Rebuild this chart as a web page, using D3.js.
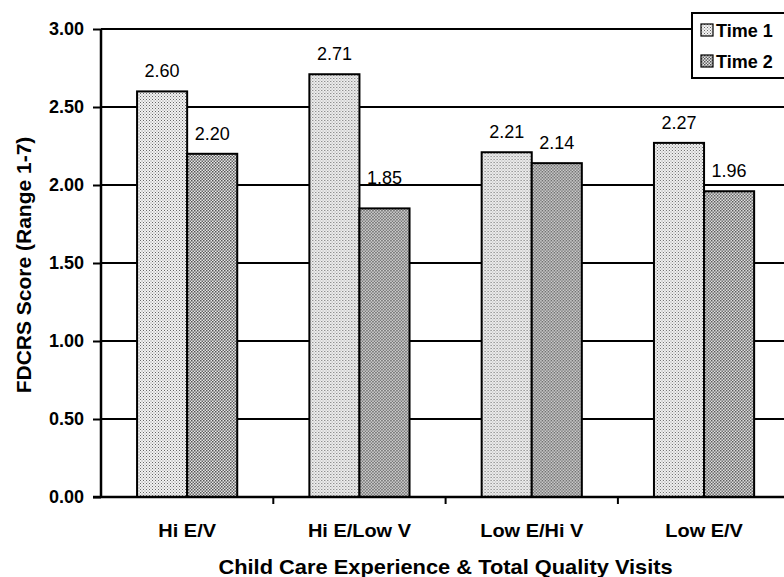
<!DOCTYPE html>
<html>
<head>
<meta charset="utf-8">
<script src="https://cdn.jsdelivr.net/npm/d3@7"></script>
<style>
  body { margin: 0; background: #fff; }
  text { font-family: "Liberation Sans", Arial, sans-serif; }
</style>
</head>
<body>
<svg id="chart" width="784" height="577"></svg>
<script>
const categories = ["Hi E/V", "Hi E/Low V", "Low E/Hi V", "Low E/V"];
const seriesNames = ["Time 1", "Time 2"];
const time1 = [2.60, 2.71, 2.21, 2.27];
const time2 = [2.20, 1.85, 2.14, 1.96];
const yTicks = [0, 0.5, 1.0, 1.5, 2.0, 2.5, 3.0];

const svg = d3.select("#chart");
const W = 784, H = 577;
const plotLeft = 101, plotTop = 29, plotBottom = 497;
const bandW = 172.3;
const plotRight = plotLeft + bandW * categories.length;
const FONT = "Liberation Sans, Arial, sans-serif";

// Widen heavy labels slightly (the printed face runs wider than Arial Bold)
function widen(sel, k) {
  sel.each(function () {
    const len = this.getComputedTextLength();
    d3.select(this).attr("textLength", len * k).attr("lengthAdjust", "spacingAndGlyphs");
  });
}

// Dotted fills for the two time points
const defs = svg.append("defs");
const p1 = defs.append("pattern").attr("id", "pat1").attr("width", 3).attr("height", 3)
  .attr("patternUnits", "userSpaceOnUse");
p1.append("rect").attr("width", 3).attr("height", 3).attr("fill", "#f2f2f2");
p1.append("rect").attr("x", 0).attr("y", 0).attr("width", 1).attr("height", 1).attr("fill", "#666");
p1.append("rect").attr("x", 1.5).attr("y", 1.5).attr("width", 1).attr("height", 1).attr("fill", "#888");
const p2 = defs.append("pattern").attr("id", "pat2").attr("width", 3).attr("height", 3)
  .attr("patternUnits", "userSpaceOnUse");
p2.append("rect").attr("width", 3).attr("height", 3).attr("fill", "#e6e6e6");
p2.append("rect").attr("x", 0).attr("y", 0).attr("width", 1.5).attr("height", 1.5).attr("fill", "#555");
p2.append("rect").attr("x", 1.5).attr("y", 1.5).attr("width", 1.5).attr("height", 1.5).attr("fill", "#666");

const x = d3.scaleBand().domain(categories).range([plotLeft, plotRight]).padding(0);
const y = d3.scaleLinear().domain([0, 3]).range([plotBottom, plotTop]);
const inner = d3.scaleBand().domain(seriesNames).range([0, x.bandwidth()]).paddingInner(0).paddingOuter(0.72);

// Horizontal gridlines
svg.append("g").selectAll("line").data(yTicks.filter(d => d > 0)).join("line")
  .attr("x1", plotLeft).attr("x2", W)
  .attr("y1", d => y(d)).attr("y2", d => y(d))
  .attr("stroke", "#000").attr("stroke-width", 2);

// Bars
const data = categories.map((c, i) => ({ c, vals: [time1[i], time2[i]] }));
const groups = svg.append("g").selectAll("g").data(data).join("g")
  .attr("transform", d => `translate(${x(d.c)},0)`);
groups.selectAll("rect").data(d => d.vals.map((v, j) => ({ v, s: seriesNames[j], j }))).join("rect")
  .attr("x", d => inner(d.s))
  .attr("width", inner.bandwidth())
  .attr("y", d => y(d.v))
  .attr("height", d => y(0) - y(d.v))
  .attr("fill", d => `url(#pat${d.j + 1})`)
  .attr("stroke", "#000").attr("stroke-width", 2);

// Value labels; the short Time 2 bar of "Hi E/Low V" has its label lifted onto the 2.00 gridline
const liftFor = (c, s) => (c === "Hi E/Low V" && s === "Time 2") ? 24 : 14;
groups.selectAll("text.val").data(d => d.vals.map((v, j) => ({ v, s: seriesNames[j], c: d.c }))).join("text")
  .attr("class", "val")
  .attr("x", d => inner(d.s) + inner.bandwidth() / 2)
  .attr("y", d => y(d.v) - liftFor(d.c, d.s))
  .attr("text-anchor", "middle")
  .attr("font-size", 18)
  .text(d => d.v.toFixed(2));

// Y axis
const yAxis = svg.append("g").attr("transform", `translate(${plotLeft},0)`)
  .call(d3.axisLeft(y).tickValues(yTicks).tickFormat(d3.format(".2f")).tickSize(8).tickPadding(9));
yAxis.select(".domain").attr("stroke", "#000").attr("stroke-width", 2.5).attr("d", `M0,${y(3)}V${y(0)}`);
yAxis.selectAll(".tick line").attr("stroke", "#000").attr("stroke-width", 2);
yAxis.selectAll(".tick text").attr("font-size", 18).attr("font-weight", "bold").attr("fill", "#000")
  .attr("font-family", FONT);

// X axis
const xAxis = svg.append("g").attr("transform", `translate(0,${plotBottom})`)
  .call(d3.axisBottom(x).tickSize(0).tickPadding(0));
xAxis.select(".domain").attr("stroke", "#000").attr("stroke-width", 2.5).attr("d", `M${plotLeft - 8},0H${W}`);
xAxis.selectAll(".tick text").attr("font-size", 19).attr("font-weight", "bold").attr("fill", "#000")
  .attr("font-family", FONT).attr("dy", null).attr("y", 40)
  .call(widen, 1.05);
// Tick marks at category boundaries
svg.append("g").selectAll("line").data(categories.slice(1)).join("line")
  .attr("x1", d => x(d)).attr("x2", d => x(d))
  .attr("y1", plotBottom).attr("y2", plotBottom + 7)
  .attr("stroke", "#000").attr("stroke-width", 2);

// Axis titles
svg.append("text")
  .attr("transform", `translate(31,${(y(0) + y(3)) / 2 + 2}) rotate(-90)`)
  .attr("text-anchor", "middle").attr("font-size", 20).attr("font-weight", "bold")
  .text("FDCRS Score  (Range 1-7)")
  .call(widen, 1.05);
svg.append("text")
  .attr("x", (plotLeft + plotRight) / 2).attr("y", 574)
  .attr("text-anchor", "middle").attr("font-size", 21).attr("font-weight", "bold")
  .text("Child Care Experience & Total Quality Visits")
  .call(widen, 1.04);

// Legend
const lg = svg.append("g").attr("transform", "translate(692,13)");
lg.append("rect").attr("width", 110).attr("height", 65).attr("fill", "#fff")
  .attr("stroke", "#000").attr("stroke-width", 2);
seriesNames.forEach((s, i) => {
  const row = lg.append("g").attr("transform", `translate(9,${17 + i * 31})`);
  row.append("rect").attr("x", 0).attr("y", -6).attr("width", 12).attr("height", 12)
    .attr("fill", `url(#pat${i + 1})`).attr("stroke", "#000").attr("stroke-width", 1.2);
  row.append("text").attr("x", 15).attr("y", 6.5).attr("font-size", 18).attr("font-weight", "bold").text(s);
});
</script>
</body>
</html>
